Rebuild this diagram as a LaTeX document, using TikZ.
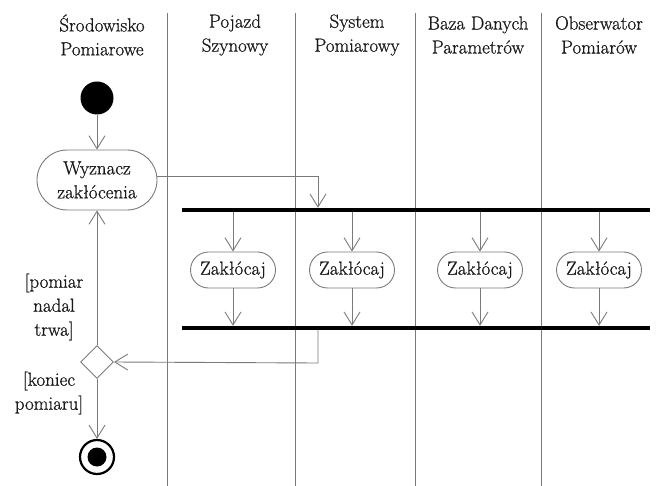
\documentclass[tikz,border=0pt]{standalone}
\usepackage{fontspec}
\setmainfont{Latin Modern Roman}[FakeBold=0.8]
\usetikzlibrary{arrows.meta,shapes.geometric,shapes.misc}
\definecolor{ln}{HTML}{7A7A7A}
\definecolor{tx}{HTML}{1A1A1A}
\begin{document}
\begin{tikzpicture}[x=1pt,y=-1pt,
  every node/.style={font=\fontsize{19}{24}\selectfont, text=tx},
  lane/.style={draw=ln, line width=1pt},
  hdr/.style={align=center, inner sep=0pt},
  act/.style={draw=ln, line width=0.9pt, rounded rectangle, align=center, inner sep=0pt},
  bar/.style={fill=black, draw=none, inner sep=0pt, minimum height=4pt},
  arr/.style={draw=ln, line width=0.9pt, -{Straight Barb[length=13pt,width=16pt]}},
  lbl/.style={align=center, inner sep=0pt}
]
\useasboundingbox (0,0) rectangle (660,486);
% lanes
\foreach \x/\n in {167/l1,295/l2,415/l3,541/l4}{
  \coordinate (\n t) at (\x,13);
  \coordinate (\n b) at (\x,486);
  \draw[lane] (\n t) -- (\n b);
}
% headers
\node[hdr] (h1) at (102,35) {Środowisko\\Pomiarowe};
\node[hdr] (h2) at (235,35) {Pojazd\\Szynowy};
\node[hdr] (h3) at (357,35) {System\\Pomiarowy};
\node[hdr] (h4) at (478,35) {Baza Danych\\Parametrów};
\node[hdr] (h5) at (599,35) {Obserwator\\Pomiarów};
% start
\node[circle, fill=black, minimum size=33pt, inner sep=0pt] (start) at (97,98) {};
% activity
\node[act, minimum width=120pt, minimum height=60pt] (wyz) at (97,180) {Wyznacz\\zakłócenia};
% bars
\node[bar, minimum width=468pt] (bar1) at (416,210) {};
\node[bar, minimum width=468pt] (bar2) at (416,328) {};
% parallel activities
\foreach \x/\n in {233/z1,352/z2,480/z3,599/z4}{
  \node[act, minimum width=85pt, minimum height=36pt] (\n) at (\x,270) {Zakłócaj};
  \draw[arr] (\n |- bar1.south) -- (\n.north);
  \draw[arr] (\n.south) -- (\n |- bar2.north);
}
% decision
\node[diamond, draw=ln, line width=0.9pt, minimum width=33pt, minimum height=33pt, inner sep=0pt, aspect=1] (dec) at (97,362) {};
% final
\node[circle, draw=black, line width=2.2pt, minimum size=34pt, inner sep=0pt] (fin) at (97,457) {};
\node[circle, fill=black, minimum size=19pt, inner sep=0pt] (fini) at (fin) {};
% connectors
\coordinate (c1) at (318,176);
\coordinate (c2) at (318,363);
\draw[arr] (start) -- (wyz.north);
\draw[arr] (wyz.east |- c1) -- (c1) -- (c1 |- bar1.north);
\draw[arr] (c2 |- bar2.south) -- (c2) -- (dec.east);
\draw[arr] (dec.north) -- (wyz.south);
\draw[arr] (dec.south) -- (fin.north);
% guards
\node[lbl] (g1) at (54,307) {[pomiar\\nadal\\trwa]};
\node[lbl] (g2) at (49,393) {[koniec\\pomiaru]};
\end{tikzpicture}
\end{document}
